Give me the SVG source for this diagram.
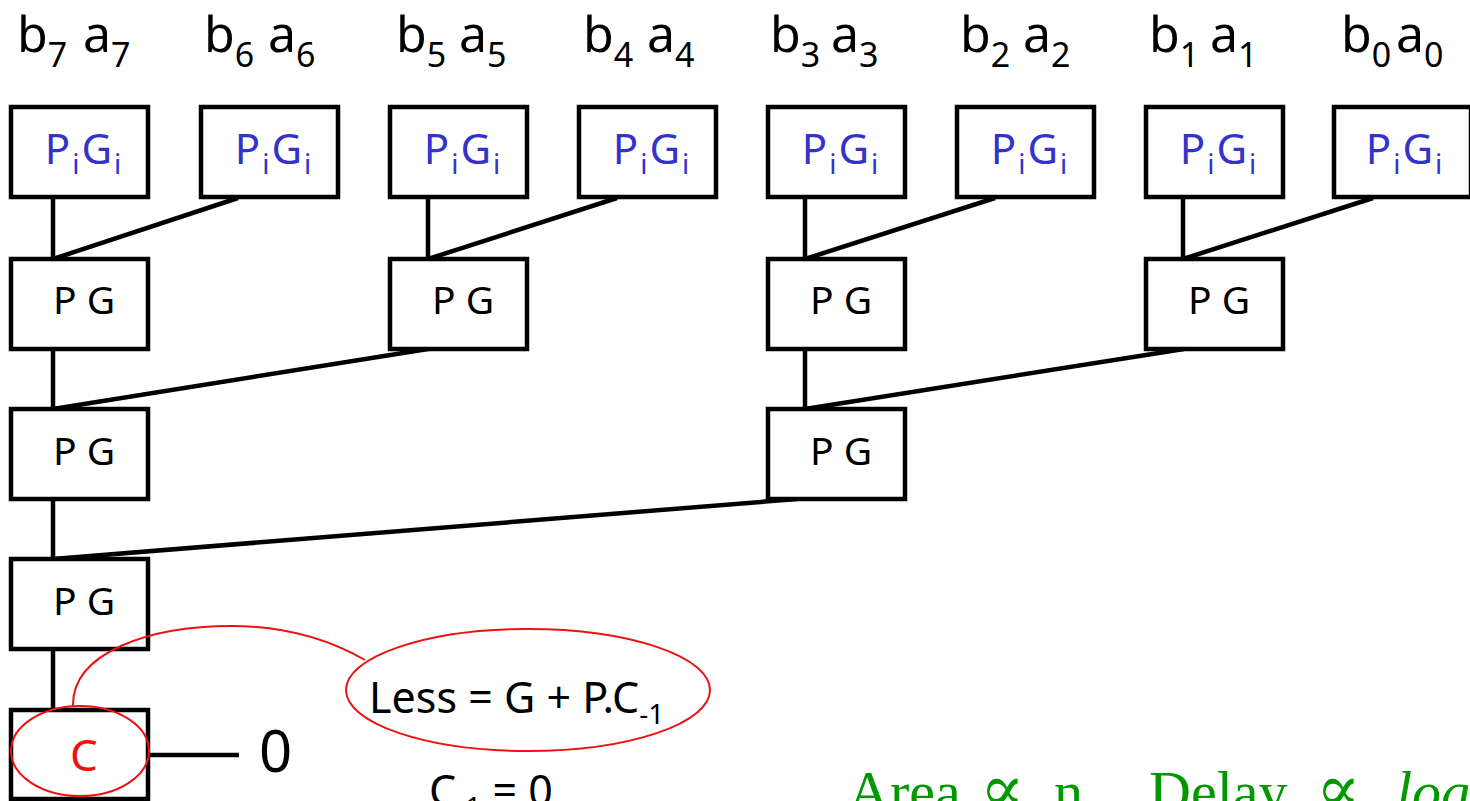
<svg xmlns="http://www.w3.org/2000/svg" width="1470" height="801" viewBox="0 0 1470 801">
<style>
  .box { fill: #ffffff; stroke: #000000; stroke-width: 4.5; }
  .wire { stroke: #000000; stroke-width: 4.5; fill: none; stroke-linecap: butt; }
  .hand { font-family: "Noto Sans", "DejaVu Sans", sans-serif; }
  .lbl { font-family: "Noto Sans", "DejaVu Sans", sans-serif; font-size: 50px; fill: #000000; }
  .sub { font-size: 34px; }
  .pg { font-family: "Noto Sans", "DejaVu Sans", sans-serif; font-size: 42px; fill: #3333cc; text-anchor: middle; letter-spacing: 2px; }
  .pgi { font-size: 28px; }
  .pgb { font-family: "Noto Sans", "DejaVu Sans", sans-serif; font-size: 39px; fill: #000000; text-anchor: middle; }
  .red { fill: none; stroke: #ee1111; stroke-width: 2; }
  .green { font-family: "Liberation Serif", "DejaVu Serif", serif; font-size: 58px; fill: #009900; }
</style>

<g id="inputs">
  <text class="lbl" x="17" y="52">b<tspan class="sub" dy="15">7</tspan></text>
  <text class="lbl" x="83" y="52">a<tspan class="sub" dy="15">7</tspan></text>
  <text class="lbl" x="204" y="52">b<tspan class="sub" dy="15">6</tspan></text>
  <text class="lbl" x="268" y="52">a<tspan class="sub" dy="15">6</tspan></text>
  <text class="lbl" x="396" y="52">b<tspan class="sub" dy="15">5</tspan></text>
  <text class="lbl" x="459" y="52">a<tspan class="sub" dy="15">5</tspan></text>
  <text class="lbl" x="583" y="52">b<tspan class="sub" dy="15">4</tspan></text>
  <text class="lbl" x="647" y="52">a<tspan class="sub" dy="15">4</tspan></text>
  <text class="lbl" x="770" y="52">b<tspan class="sub" dy="15">3</tspan></text>
  <text class="lbl" x="831" y="52">a<tspan class="sub" dy="15">3</tspan></text>
  <text class="lbl" x="960" y="52">b<tspan class="sub" dy="15">2</tspan></text>
  <text class="lbl" x="1023" y="52">a<tspan class="sub" dy="15">2</tspan></text>
  <text class="lbl" x="1149" y="52">b<tspan class="sub" dy="15">1</tspan></text>
  <text class="lbl" x="1210" y="52">a<tspan class="sub" dy="15">1</tspan></text>
  <text class="lbl" x="1341" y="52">b<tspan class="sub" dy="15">0</tspan></text>
  <text class="lbl" x="1396" y="52">a<tspan class="sub" dy="15">0</tspan></text>
</g>

<g id="connectors">
  <line class="wire" x1="53" y1="198" x2="53" y2="259"/>
  <line class="wire" x1="238" y1="198" x2="53" y2="259"/>
  <line class="wire" x1="428" y1="198" x2="428" y2="259"/>
  <line class="wire" x1="617" y1="198" x2="428" y2="259"/>
  <line class="wire" x1="805" y1="198" x2="805" y2="259"/>
  <line class="wire" x1="995" y1="198" x2="805" y2="259"/>
  <line class="wire" x1="1183" y1="198" x2="1183" y2="259"/>
  <line class="wire" x1="1373" y1="198" x2="1183" y2="259"/>
  <line class="wire" x1="53" y1="349" x2="53" y2="409"/>
  <line class="wire" x1="428" y1="349" x2="53" y2="409"/>
  <line class="wire" x1="805" y1="349" x2="805" y2="409"/>
  <line class="wire" x1="1184" y1="349" x2="805" y2="409"/>
  <line class="wire" x1="53" y1="499" x2="53" y2="559"/>
  <line class="wire" x1="797" y1="499" x2="53" y2="559"/>
  <line class="wire" x1="53" y1="649" x2="53" y2="710"/>
  <line class="wire" x1="148" y1="755" x2="239" y2="755"/>
</g>

<g id="pg-row1">
  <g id="pg1-7"><rect class="box" x="11" y="107" width="137" height="90"/><text class="pg" x="84" y="164">P<tspan class="pgi" dy="10">i</tspan><tspan dy="-10">G</tspan><tspan class="pgi" dy="10">i</tspan></text></g>
  <g id="pg1-6"><rect class="box" x="201" y="107" width="137" height="90"/><text class="pg" x="274" y="164">P<tspan class="pgi" dy="10">i</tspan><tspan dy="-10">G</tspan><tspan class="pgi" dy="10">i</tspan></text></g>
  <g id="pg1-5"><rect class="box" x="390" y="107" width="137" height="90"/><text class="pg" x="463" y="164">P<tspan class="pgi" dy="10">i</tspan><tspan dy="-10">G</tspan><tspan class="pgi" dy="10">i</tspan></text></g>
  <g id="pg1-4"><rect class="box" x="579" y="107" width="137" height="90"/><text class="pg" x="652" y="164">P<tspan class="pgi" dy="10">i</tspan><tspan dy="-10">G</tspan><tspan class="pgi" dy="10">i</tspan></text></g>
  <g id="pg1-3"><rect class="box" x="768" y="107" width="137" height="90"/><text class="pg" x="841" y="164">P<tspan class="pgi" dy="10">i</tspan><tspan dy="-10">G</tspan><tspan class="pgi" dy="10">i</tspan></text></g>
  <g id="pg1-2"><rect class="box" x="957" y="107" width="137" height="90"/><text class="pg" x="1030" y="164">P<tspan class="pgi" dy="10">i</tspan><tspan dy="-10">G</tspan><tspan class="pgi" dy="10">i</tspan></text></g>
  <g id="pg1-1"><rect class="box" x="1146" y="107" width="137" height="90"/><text class="pg" x="1219" y="164">P<tspan class="pgi" dy="10">i</tspan><tspan dy="-10">G</tspan><tspan class="pgi" dy="10">i</tspan></text></g>
  <g id="pg1-0"><rect class="box" x="1334" y="107" width="137" height="90"/><text class="pg" x="1405" y="164">P<tspan class="pgi" dy="10">i</tspan><tspan dy="-10">G</tspan><tspan class="pgi" dy="10">i</tspan></text></g>
</g>

<g id="pg-row2">
  <g id="pg2-a"><rect class="box" x="11" y="259" width="137" height="90"/><text class="pgb" x="84" y="314">P G</text></g>
  <g id="pg2-b"><rect class="box" x="390" y="259" width="137" height="90"/><text class="pgb" x="463" y="314">P G</text></g>
  <g id="pg2-c"><rect class="box" x="768" y="259" width="137" height="90"/><text class="pgb" x="841" y="314">P G</text></g>
  <g id="pg2-d"><rect class="box" x="1146" y="259" width="137" height="90"/><text class="pgb" x="1219" y="314">P G</text></g>
</g>

<g id="pg-row3">
  <g id="pg3-a"><rect class="box" x="11" y="409" width="137" height="90"/><text class="pgb" x="84" y="465">P G</text></g>
  <g id="pg3-b"><rect class="box" x="768" y="409" width="137" height="90"/><text class="pgb" x="841" y="465">P G</text></g>
</g>

<g id="pg-row4">
  <g id="pg4-a"><rect class="box" x="11" y="559" width="137" height="90"/><text class="pgb" x="84" y="615">P G</text></g>
</g>

<g id="carry">
  <rect class="box" x="11" y="710" width="137" height="89"/>
  <text class="hand" x="70" y="771" font-size="44" fill="#ee1111">C</text>
</g>

<g id="output">
  <text class="hand" x="259" y="772" font-size="58" fill="#000000">0</text>
</g>

<g id="annotation">
  <ellipse class="red" cx="80" cy="751" rx="69" ry="45"/>
  <path class="red" d="M73,706 C72,652 150,626 232,626 C285,626 330,640 365,660"/>
  <ellipse class="red" cx="528" cy="690" rx="182" ry="61"/>
  <text class="hand" x="369" y="713" font-size="43" fill="#000000">Less = G + P.C<tspan font-size="28" dy="11">-1</tspan></text>
  <text class="hand" x="429" y="806" font-size="43" fill="#000000">C<tspan font-size="28" dy="11">-1</tspan><tspan dy="-11"> = 0</tspan></text>
</g>

<g id="complexity">
  <text class="green" y="811"><tspan x="848">Area</tspan><tspan x="980" font-size="66">∝</tspan><tspan x="1054">n,</tspan><tspan x="1149">Delay</tspan><tspan x="1316" font-size="66">∝</tspan><tspan x="1396" font-style="italic">log</tspan></text>
</g>
</svg>
